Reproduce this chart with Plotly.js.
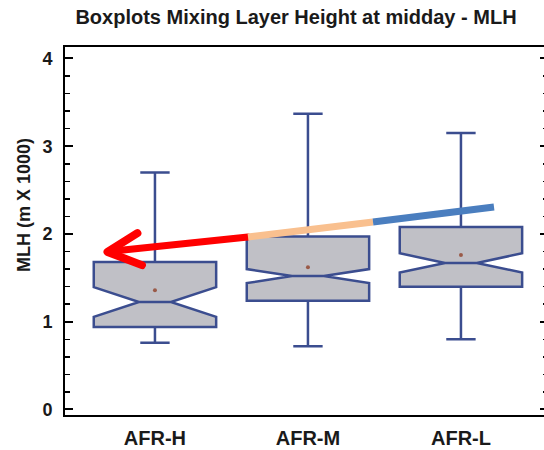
<!DOCTYPE html>
<html>
<head>
<meta charset="utf-8">
<script src="https://cdn.plot.ly/plotly-3.0.1.min.js"></script>
<style>
html, body { margin: 0; padding: 0; overflow: hidden; background: #fff; }
#chart { width: 552px; height: 450px; }
</style>
</head>
<body>
<div id="chart"></div>
<script>
// Categories and box statistics (MLH, m x 1000)
const categories = ["AFR-H", "AFR-M", "AFR-L"];
const positions = [0, 1, 2];
const lowerWhisker = [0.76, 0.72, 0.80];
const q1 = [0.94, 1.24, 1.40];
const median = [1.225, 1.52, 1.67];
const q3 = [1.68, 1.97, 2.08];
const upperWhisker = [2.70, 3.37, 3.15];
const meanValue = [1.36, 1.62, 1.76];
const notchSpan = [0.17, 0.08, 0.11];

// Overlay arrow (trend) points in data coordinates
const blueSeg = { x: [1.425, 2.216], y: [2.137, 2.308] };
const peachSeg = { x: [0.608, 1.425], y: [1.966, 2.137] };
const redSeg = { x: [-0.30, 0.608], y: [1.80, 1.966] };
const arrowHead = { x: [-0.115, -0.31, -0.085], y: [2.01, 1.795, 1.645] };

const boxLine = "#3b4d8f";
const boxFill = "#c0c0c6";

const traces = [
  {
    type: "box",
    x: positions,
    q1: q1,
    median: median,
    q3: q3,
    lowerfence: lowerWhisker,
    upperfence: upperWhisker,
    notched: true,
    notchspan: notchSpan,
    notchwidth: 0.37,
    width: 0.8,
    whiskerwidth: 0.24,
    boxpoints: false,
    fillcolor: boxFill,
    line: { color: boxLine, width: 2.5 },
    hoverinfo: "skip",
    showlegend: false
  },
  {
    type: "scatter",
    mode: "markers",
    x: positions,
    y: meanValue,
    marker: { color: "#9a5a48", size: 4 },
    hoverinfo: "skip",
    showlegend: false
  }
];

function seg(s, color, name) {
  return {
    type: "line", xref: "x", yref: "y", name: name,
    x0: s.x[0], y0: s.y[0], x1: s.x[1], y1: s.y[1],
    line: { color: color, width: 7 }, layer: "above"
  };
}

// red drawn first so the other colours sit on top at the joins
const shapes = [
  seg(redSeg, "#ff0000", "red"),
  {
    type: "path", xref: "x", yref: "y", layer: "above", name: "head",
    path: "M" + arrowHead.x[0] + "," + arrowHead.y[0] +
          " L" + arrowHead.x[1] + "," + arrowHead.y[1] +
          " L" + arrowHead.x[2] + "," + arrowHead.y[2],
    line: { color: "#ff0000", width: 8 }
  },
  seg(peachSeg, "#f9c08f", "peach"),
  seg(blueSeg, "#4a7ebf", "blue")
];

const fontFam = "Liberation Sans, Arial, sans-serif";

const layout = {
  width: 552,
  height: 450,
  margin: { l: 65, r: 4, t: 47, b: 35 },
  paper_bgcolor: "#ffffff",
  plot_bgcolor: "#ffffff",
  showlegend: false,
  title: {
    text: "Boxplots Mixing Layer Height at midday - MLH",
    font: { family: fontFam, size: 20, weight: 700, color: "#1a1a1a" },
    x: 296 / 552, xanchor: "center", xref: "container",
    y: 1 - 17 / 450, yanchor: "middle", yref: "container"
  },
  xaxis: {
    type: "linear",
    range: [-0.588, 2.569],
    tickvals: positions,
    ticktext: categories,
    ticks: "",
    showgrid: false,
    zeroline: false,
    showline: true,
    linecolor: "#000",
    linewidth: 2,
    mirror: true,
    tickfont: { family: fontFam, size: 20, weight: 700, color: "#1a1a1a" },
    ticklabelstandoff: 4
  },
  yaxis: {
    range: [-0.063, 4.131],
    tickvals: [0, 1, 2, 3, 4],
    ticks: "inside",
    ticklen: 8,
    tickwidth: 2,
    tickcolor: "#000",
    showgrid: false,
    zeroline: false,
    showline: true,
    linecolor: "#000",
    linewidth: 2,
    mirror: "ticks",
    minor: { dtick: 0.2, ticks: "inside", ticklen: 5, tickwidth: 1.5, tickcolor: "#000", showgrid: false },
    tickfont: { family: fontFam, size: 18, weight: 700, color: "#1a1a1a" },
    ticklabelstandoff: 7
  },
  annotations: [
    {
      text: "MLH (m X 1000)",
      xref: "paper", yref: "y",
      x: (24 - 65) / 483, y: 2.33,
      xanchor: "center", yanchor: "middle",
      textangle: -90,
      showarrow: false,
      font: { family: fontFam, size: 18, weight: 700, color: "#1a1a1a" }
    }
  ],
  shapes: shapes
};

Plotly.newPlot("chart", traces, layout, { displayModeBar: false, staticPlot: true }).then(function (gd) {
  // round ends only on the red arrow strokes (first two shapes)
  const paths = gd.querySelectorAll(".shapelayer path");
  for (let i = 0; i < Math.min(2, paths.length); i++) {
    paths[i].style.strokeLinecap = "round";
    paths[i].style.strokeLinejoin = "round";
  }
});
</script>
</body>
</html>
